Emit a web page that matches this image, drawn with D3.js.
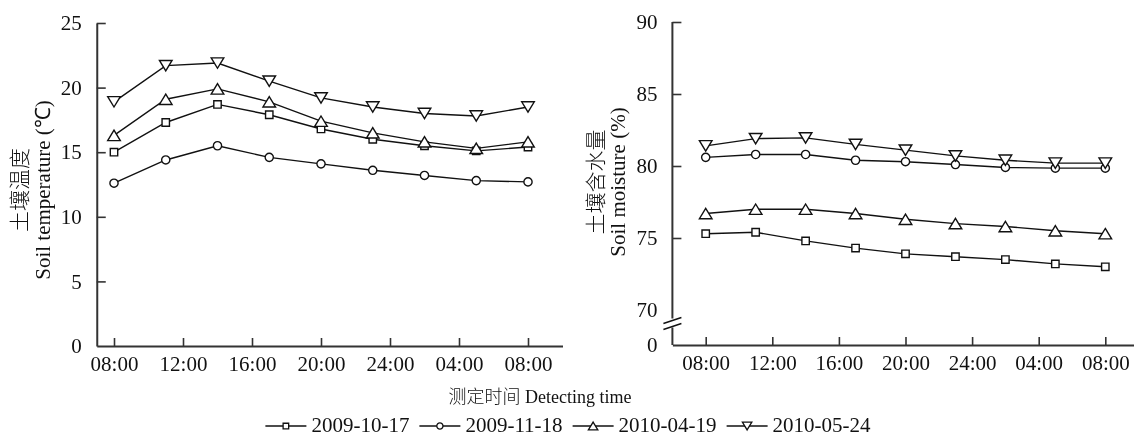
<!DOCTYPE html>
<html>
<head>
<meta charset="utf-8">
<script src="https://cdn.jsdelivr.net/npm/d3@7"></script>
<style>
  html, body { margin: 0; padding: 0; background: #fff; }
  svg { display: block; will-change: transform; }
  .serif { font-family: "Liberation Serif", "Times New Roman", serif; }
  .cjk { font-family: "Noto Sans CJK SC", sans-serif; font-weight: 300; }
</style>
</head>
<body>
<svg id="chart" width="1134" height="437"></svg>
<script>
// Sampling times, hours after the first 08:00 reading
const hours = [0, 3, 6, 9, 12, 15, 18, 21, 24];
const tickHours = [0, 4, 8, 12, 16, 20, 24];
const tickLabels = ["08:00", "12:00", "16:00", "20:00", "24:00", "04:00", "08:00"];

const seriesNames = ["2009-10-17", "2009-11-18", "2010-04-19", "2010-05-24"];
const seriesSymbols = ["square", "circle", "triangleUp", "triangleDown"];

// Soil temperature (°C)
const temp20091017 = [15.0, 17.3, 18.7, 17.9, 16.8, 16.0, 15.5, 15.1, 15.4];
const temp20091118 = [12.6, 14.4, 15.5, 14.6, 14.1, 13.6, 13.2, 12.8, 12.7];
const temp20100419 = [16.3, 19.1, 19.9, 18.9, 17.4, 16.5, 15.8, 15.3, 15.8];
const temp20100524 = [18.9, 21.7, 21.9, 20.5, 19.2, 18.5, 18.0, 17.8, 18.5];

// Soil moisture (%)
const moist20091017 = [75.3, 75.4, 74.8, 74.3, 73.9, 73.7, 73.5, 73.2, 73.0];
const moist20091118 = [80.6, 80.8, 80.8, 80.4, 80.3, 80.1, 79.9, 79.85, 79.85];
const moist20100419 = [76.7, 77.0, 77.0, 76.7, 76.3, 76.0, 75.8, 75.5, 75.3];
const moist20100524 = [81.4, 81.9, 81.95, 81.5, 81.1, 80.7, 80.4, 80.2, 80.2];

const tempTicks = [0, 5, 10, 15, 20, 25];
const moistTicks = [0, 70, 75, 80, 85, 90];

const svg = d3.select("#chart");
const FONT = 21;
const INK = "#111";
const AXIS = "#333";

// Marker shapes centred on (0,0)
function markerPath(kind, s) {
  if (kind === "square") {
    const h = 3.7 * s;
    return `M${-h},${-h}H${h}V${h}H${-h}Z`;
  }
  if (kind === "circle") {
    const r = 4.1 * s;
    return `M${r},0A${r},${r} 0 1,1 ${-r},0A${r},${r} 0 1,1 ${r},0Z`;
  }
  const w = 6.3 * s, h = 5.2 * s;
  if (kind === "triangleUp") return `M0,${-h}L${w},${h}L${-w},${h}Z`;
  return `M0,${h}L${w},${-h}L${-w},${-h}Z`;
}

function styleAxis(sel) {
  sel.attr("font-family", null).attr("font-size", null).attr("class", "serif");
  sel.select(".domain").attr("stroke", AXIS).attr("stroke-width", 2);
  sel.selectAll(".tick line").attr("stroke", AXIS).attr("stroke-width", 1.6);
  sel.selectAll(".tick text").attr("class", "serif")
    .style("font-size", FONT + "px").attr("fill", INK);
}

function drawPanel(cfg) {
  const g = svg.append("g");
  const x = cfg.x, y = cfg.y;

  // x axis with inward ticks
  const xAxis = d3.axisBottom(x)
    .tickValues(tickHours)
    .tickFormat((d, i) => tickLabels[i])
    .tickSizeInner(-8).tickSizeOuter(0).tickPadding(10);
  const gx = g.append("g").attr("transform", `translate(0,${cfg.baseY})`).call(xAxis);
  styleAxis(gx);

  // y axis with inward ticks
  const yAxis = d3.axisLeft(y)
    .tickValues(cfg.yTicks)
    .tickSizeInner(-9).tickSizeOuter(0).tickPadding(15);
  const gy = g.append("g").attr("transform", `translate(${cfg.axisX},0)`).call(yAxis);
  styleAxis(gy);
  gy.selectAll(".tick line")
    .attr("display", d => (d === 0 || cfg.hideTick.includes(d)) ? "none" : null);

  if (cfg.breakAt !== undefined) {
    // broken axis between 0 and 70
    gy.select(".domain").remove();
    const top = y(cfg.yTicks[cfg.yTicks.length - 1]);
    const bMid = (y(cfg.breakAt) + cfg.baseY) / 2 - 4;
    g.append("line").attr("x1", cfg.axisX).attr("x2", cfg.axisX)
      .attr("y1", top).attr("y2", bMid - 5).attr("stroke", AXIS).attr("stroke-width", 2);
    g.append("line").attr("x1", cfg.axisX).attr("x2", cfg.axisX)
      .attr("y1", bMid + 4).attr("y2", cfg.baseY).attr("stroke", AXIS).attr("stroke-width", 2);
    [-3, 3].forEach(o => {
      g.append("line")
        .attr("x1", cfg.axisX - 9).attr("y1", bMid + o + 3)
        .attr("x2", cfg.axisX + 9).attr("y2", bMid + o - 3)
        .attr("stroke", INK).attr("stroke-width", 1.5);
    });
  }

  // series
  const line = d3.line().x((d, i) => x(hours[i])).y(d => y(d));
  cfg.series.forEach(vals => {
    g.append("path").datum(vals).attr("d", line)
      .attr("fill", "none").attr("stroke", INK).attr("stroke-width", 1.4);
  });
  cfg.series.forEach((vals, k) => {
    g.append("g").selectAll("path").data(vals).join("path")
      .attr("transform", (d, i) => `translate(${x(hours[i])},${y(d)})`)
      .attr("d", markerPath(seriesSymbols[k], 1))
      .attr("fill", "#fff").attr("stroke", INK).attr("stroke-width", 1.4);
  });

  // y axis title, two lines rotated
  g.append("text")
    .attr("class", "cjk")
    .attr("transform", `translate(${cfg.cnX},${cfg.titleY}) rotate(-90)`)
    .attr("text-anchor", "middle").attr("dominant-baseline", "central")
    .style("font-size", FONT + "px").attr("fill", INK)
    .text(cfg.cnTitle);
  g.append("text")
    .attr("class", "serif")
    .attr("transform", `translate(${cfg.enX},${cfg.titleY}) rotate(-90)`)
    .attr("text-anchor", "middle")
    .style("font-size", FONT + "px").attr("fill", INK)
    .text(cfg.enTitle);
}

// Left: soil temperature
drawPanel({
  x: d3.scaleLinear().domain([-1, 26]).range([96.75, 562.5]),
  y: d3.scaleLinear().domain([0, 25]).range([346, 23]),
  baseY: 346, axisX: 96.75,
  yTicks: tempTicks, hideTick: [],
  series: [temp20091017, temp20091118, temp20100419, temp20100524],
  cnTitle: "土壤温度", enTitle: "Soil temperature (℃)",
  cnX: 18, enX: 50, titleY: 190
});

// Right: soil moisture, axis broken between 0 and 70
drawPanel({
  x: d3.scaleLinear().domain([-2, 26]).range([672.4, 1138.6]),
  y: d3.scaleLinear().domain([0, 70, 90]).range([345, 310, 22]),
  baseY: 345, axisX: 672.4,
  yTicks: moistTicks, hideTick: [70], breakAt: 70,
  series: [moist20091017, moist20091118, moist20100419, moist20100524],
  cnTitle: "土壤含水量", enTitle: "Soil moisture (%)",
  cnX: 594, enX: 625, titleY: 182
});

// Shared x axis title
const xtText = svg.append("text")
  .attr("x", 540).attr("y", 403)
  .attr("text-anchor", "middle").style("font-size", "18px").attr("fill", INK);
xtText.append("tspan").attr("class", "cjk").text("测定时间");
xtText.append("tspan").attr("class", "serif").text(" Detecting time");

// Legend
const legend = svg.append("g");
const items = legend.selectAll("g").data(seriesNames).join("g");
items.append("line").attr("x1", 0).attr("x2", 41).attr("y1", -6).attr("y2", -6)
  .attr("stroke", INK).attr("stroke-width", 1.4);
items.append("path").attr("transform", "translate(20.5,-6)")
  .attr("d", (d, i) => markerPath(seriesSymbols[i], 0.75))
  .attr("fill", "#fff").attr("stroke", INK).attr("stroke-width", 1.3);
items.append("text").attr("class", "serif").attr("x", 46)
  .style("font-size", FONT + "px").attr("fill", INK).text(d => d);
let cursor = 0;
items.each(function () {
  const w = 46 + this.querySelector("text").getComputedTextLength();
  d3.select(this).attr("transform", `translate(${cursor},0)`);
  cursor += w + 10;
});
const total = cursor - 10;
legend.attr("transform", `translate(${568 - total / 2},432)`);
</script>
</body>
</html>
